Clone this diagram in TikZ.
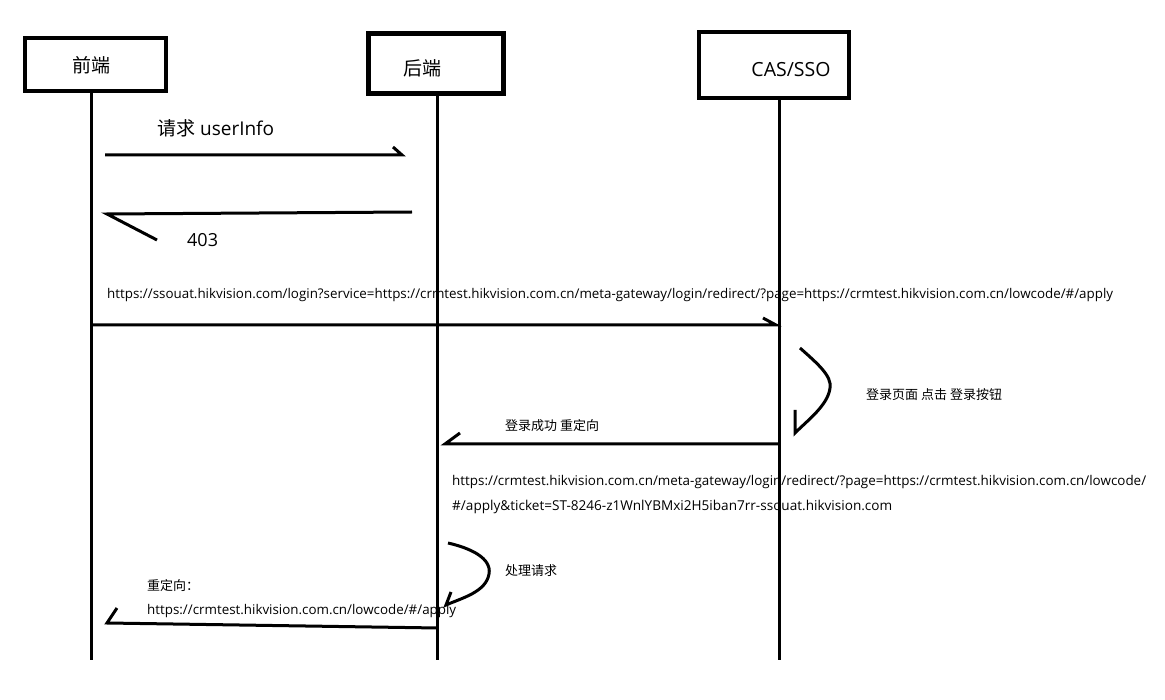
\documentclass[tikz,border=0pt]{standalone}
\usepackage{fontspec}
\setmainfont{Open Sans}
\newfontfamily\cjk{Noto Sans CJK SC}
\begin{document}
\begin{tikzpicture}[x=1pt,y=-1pt,
  box/.style={draw, line width=4.5pt, inner sep=0pt},
  life/.style={line width=3pt},
  msg/.style={line width=3pt},
  big/.style={font=\fontsize{19}{21}\selectfont, inner sep=0pt, anchor=west},
  small/.style={font=\fontsize{13}{15}\selectfont, inner sep=0pt, anchor=west}]
\useasboundingbox[fill=white] (0,0) rectangle (1165,700);
% participant boxes
\node[box, minimum width=141pt, minimum height=53pt] (fe) at (95.5,64.5) {};
\node[box, minimum width=135pt, minimum height=60pt] (be) at (436,63.5) {};
\node[box, minimum width=150pt, minimum height=66pt] (cas) at (774,65) {};
\node[big, anchor=center] (feT) at (91,65) {\cjk 前端};
\node[big, anchor=center] (beT) at (422,68) {\cjk 后端};
\node[big, anchor=center, font=\fontsize{19.5}{21}\selectfont] (casT) at (791,70) {CAS/SSO};
% lifelines
\coordinate (feB) at (91,660);
\coordinate (beB) at (437,660);
\coordinate (casB) at (779,660);
\draw[life] (fe.south -| feB) -- (feB);
\draw[life] (be.south -| beB) -- (beB);
\draw[life] (cas.south -| casB) -- (casB);
% message 1
\coordinate (m1s) at (105,155); \coordinate (m1e) at (402,155); \coordinate (m1h) at (393,147);
\draw[msg] (m1s) -- (m1e) -- (m1h);
\node[big] (t1) at (157,128) {{\cjk 请求} userInfo};
% message 2
\coordinate (m2s) at (412,212); \coordinate (m2e) at (107,214); \coordinate (m2h) at (157,240);
\draw[msg] (m2s) -- (m2e) -- (m2h);
\node[big, font=\fontsize{18}{20}\selectfont] (t2) at (187,240) {403};
% message 3
\node[small] (t3) at (107,295) {\resizebox{1006pt}{!}{https://ssouat.hikvision.com/login?service=https://crmtest.hikvision.com.cn/meta-gateway/login/redirect/?page=https://crmtest.hikvision.com.cn/lowcode/\#/apply}};
\coordinate (m3s) at (91,325); \coordinate (m3e) at (776,325); \coordinate (m3h) at (763,318);
\draw[msg] (m3s) -- (m3e) -- (m3h);
% self call at CAS
\coordinate (c1a) at (800,348); \coordinate (c1m) at (830,388); \coordinate (c1b) at (795,433); \coordinate (c1h) at (795,410);
\draw[msg] (c1a) .. controls (818,364) and (832,376) .. (c1m) .. controls (828,405) and (808,420) .. (c1b) -- (c1h);
\node[small] (t4) at (866,395) {\cjk 登录页面 点击 登录按钮};
% message 4
\coordinate (m4s) at (779,444); \coordinate (m4e) at (445,444); \coordinate (m4h) at (460,433);
\draw[msg] (m4s) -- (m4e) -- (m4h);
\node[small] (t5) at (505,426) {\cjk 登录成功 重定向};
\node[small] (t6) at (452,482) {\resizebox{694pt}{!}{https://crmtest.hikvision.com.cn/meta-gateway/login/redirect/?page=https://crmtest.hikvision.com.cn/lowcode/}};
\node[small] (t7) at (452,507) {\resizebox{440pt}{!}{\#/apply\&ticket=ST-8246-z1WnlYBMxi2H5iban7rr-ssouat.hikvision.com}};
% self call at backend
\coordinate (c2a) at (448,543); \coordinate (c2m) at (489,574); \coordinate (c2b) at (446,605); \coordinate (c2h) at (451,592);
\draw[msg] (c2a) .. controls (470,548) and (492,558) .. (c2m) .. controls (486,592) and (462,598) .. (c2b) -- (c2h);
\node[small] (t8) at (505,571) {\cjk 处理请求};
% message 5
\coordinate (m5s) at (438,628); \coordinate (m5e) at (107,623); \coordinate (m5h) at (117,608);
\draw[msg] (m5s) -- (m5e) -- (m5h);
\node[small] (t9) at (147,586) {\cjk 重定向：};
\node[small] (t10) at (147,611) {\resizebox{309pt}{!}{https://crmtest.hikvision.com.cn/lowcode/\#/apply}};
\end{tikzpicture}
\end{document}
